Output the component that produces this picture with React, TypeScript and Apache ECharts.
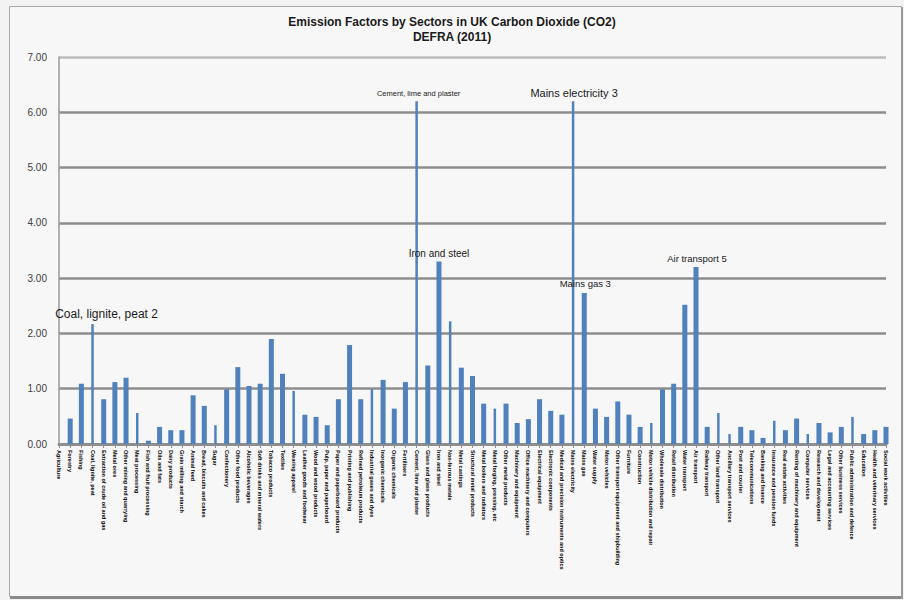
import React, { useEffect, useRef } from "react";
import * as echarts from "echarts";

const categories = [
  "Agriculture", "Forestry", "Fishing", "Coal, lignite, peat",
  "Extraction of crude oil and gas", "Metal ores", "Other mining and quarrying",
  "Meat processing", "Fish and fruit processing", "Oils and fats",
  "Dairy products", "Grain milling and starch", "Animal feed",
  "Bread, biscuits and cakes", "Sugar", "Confectionery", "Other food products",
  "Alcoholic beverages", "Soft drinks and mineral waters", "Tobacco products",
  "Textiles", "Wearing apparel", "Leather goods and footwear",
  "Wood and wood products", "Pulp, paper and paperboard",
  "Paper and paperboard products", "Printing and publishing",
  "Refined petroleum products", "Industrial gases and dyes",
  "Inorganic chemicals", "Organic chemicals", "Fertilisers",
  "Cement, lime and plaster", "Glass and glass products", "Iron and steel",
  "Non-ferrous metals", "Metal castings", "Structural metal products",
  "Metal boilers and radiators", "Metal forging, pressing, etc",
  "Other metal products", "Machinery and equipment",
  "Office machinery and computers", "Electrical equipment",
  "Electronic components", "Medical and precision instruments and optics",
  "Mains electricity", "Mains gas", "Water supply", "Motor vehicles",
  "Other transport equipment and shipbuilding", "Furniture",
  "Construction", "Motor vehicle distribution and repair",
  "Wholesale distribution", "Retail distribution", "Water transport",
  "Air transport", "Railway transport", "Other land transport",
  "Ancillary transport services", "Post and courier",
  "Telecommunications", "Banking and finance",
  "Insurance and pension funds", "Real estate activities",
  "Renting of machinery and equipment", "Computer services",
  "Research and development", "Legal and accounting services",
  "Other business services", "Public administration and defence",
  "Education", "Health and veterinary services", "Social work activities",
];

const values = [
  0, 0.46, 1.09, 2.17, 0.81, 1.12, 1.2, 0.56, 0.06, 0.31,
  0.25, 0.25, 0.88, 0.69, 0.34, 0.99, 1.39, 1.05, 1.09, 1.9,
  1.27, 0.96, 0.53, 0.49, 0.34, 0.81, 1.79, 0.81, 0.99, 1.16,
  0.64, 1.12, 6.2, 1.42, 3.3, 2.22, 1.38, 1.23, 0.73, 0.64,
  0.73, 0.38, 0.45, 0.81, 0.6, 0.53, 6.2, 2.73, 0.64, 0.49,
  0.77, 0.53, 0.31, 0.38, 0.99, 1.09, 2.52, 3.2, 0.31, 0.56,
  0.18, 0.31, 0.25, 0.11, 0.42, 0.25, 0.46, 0.18, 0.38, 0.21,
  0.31, 0.49, 0.18, 0.25, 0.31,
];

const yMin = 0;
const yMax = 7;
const yStep = 1;

const annotations = [
  { index: 3, text: "Coal, lignite, peat 2" },
  { index: 32, text: "Cement, lime and plaster" },
  { index: 34, text: "Iron and steel" },
  { index: 46, text: "Mains electricity 3" },
  { index: 47, text: "Mains gas 3" },
  { index: 57, text: "Air transport 5" },
];

// styling only: which bars render narrow, and annotation label styles
const thinBars = [3, 7, 14, 21, 28, 32, 35, 39, 46, 53, 59, 60, 64, 67, 71];
const labelStyles: Record<number, { fontSize: number; distance: number; offset: number[] }> = {
  3: { fontSize: 12, distance: 4, offset: [14, 0] },
  32: { fontSize: 7.5, distance: 4, offset: [2, 0] },
  34: { fontSize: 10, distance: 3, offset: [0, 0] },
  46: { fontSize: 11, distance: 3, offset: [1, 0] },
  47: { fontSize: 9.5, distance: 5, offset: [1, 0] },
  57: { fontSize: 9.5, distance: 4, offset: [1, 0] },
};

const FONT = "'Liberation Sans', Arial, sans-serif";
const BLUE = "#4f81bd";
const GRID_DARK = "#8e8e8e";
const GRID_LIGHT = "#bcbcbc";

function buildData(thin: boolean) {
  return values.map((v, i) => {
    const isThin = thinBars.includes(i);
    if (isThin !== thin) return "-";
    const ann = annotations.find((a) => a.index === i);
    if (!ann) return v;
    const st = labelStyles[i];
    return {
      value: v,
      label: {
        show: true,
        position: "top",
        formatter: ann.text,
        fontSize: st.fontSize,
        distance: st.distance,
        offset: st.offset,
        color: "#1a1a1a",
        fontFamily: FONT,
      },
    };
  });
}

export default function App() {
  const ref = useRef<HTMLDivElement>(null);
  useEffect(() => {
    if (!ref.current) return;
    const chart = echarts.init(ref.current, null, { renderer: "svg" });
    const xBase = {
      type: "category",
      data: categories,
      boundaryGap: false,
      position: "bottom",
    };
    // one colour per split line (0 .. max); the top one is lighter
    const splitColors: string[] = [];
    for (let v = yMin; v <= yMax; v += yStep) splitColors.push(v === yMax ? GRID_LIGHT : GRID_DARK);

    chart.setOption({
      animation: false,
      backgroundColor: "#f3f3f3",
      title: {
        text: "Emission Factors by Sectors in UK Carbon Dioxide (CO2)\nDEFRA (2011)",
        left: "center",
        top: 12,
        padding: 2,
        textStyle: {
          fontSize: 12,
          fontWeight: "bold",
          color: "#1a1a1a",
          lineHeight: 15,
          fontFamily: FONT,
        },
      },
      graphic: {
        elements: [
          {
            type: "rect",
            z: -100,
            shape: { x: 9.5, y: 6.5, width: 892, height: 590 },
            style: { fill: "#f7f7f7", stroke: "#a8a8a8", lineWidth: 1 },
            silent: true,
          },
          {
            type: "line",
            z: -99,
            shape: { x1: 10, y1: 597.5, x2: 903, y2: 597.5 },
            style: { stroke: "#8a8a8a", lineWidth: 3 },
            silent: true,
          },
          {
            type: "line",
            z: -99,
            shape: { x1: 902, y1: 7, x2: 902, y2: 599 },
            style: { stroke: "#9a9a9a", lineWidth: 2 },
            silent: true,
          },
        ],
      },
      grid: { left: 59, right: 18, top: 57, bottom: 156, containLabel: false },
      xAxis: [
        {
          ...xBase,
          axisLine: { show: true, lineStyle: { color: GRID_DARK, width: 3 } },
          axisTick: { show: true, length: 4, lineStyle: { color: GRID_DARK } },
          axisLabel: {
            rotate: -90,
            interval: 0,
            fontSize: 5.5,
            fontWeight: "bold",
            margin: 6,
            color: "#000",
            fontFamily: FONT,
          },
          splitLine: { show: false },
        },
        { ...xBase, show: false },
      ],
      yAxis: {
        type: "value",
        min: yMin,
        max: yMax,
        interval: yStep,
        axisLine: { show: true, lineStyle: { color: "#9a9a9a", width: 1.5 } },
        axisTick: { show: false },
        axisLabel: {
          formatter: (v: number) => v.toFixed(2),
          fontSize: 10,
          margin: 12,
          color: "#404040",
          fontFamily: FONT,
        },
        splitLine: {
          show: true,
          showMinLine: true,
          showMaxLine: true,
          lineStyle: { color: splitColors, width: 2.5 },
        },
      },
      series: [
        {
          type: "bar",
          xAxisIndex: 0,
          data: buildData(false),
          barWidth: 5,
          itemStyle: { color: BLUE },
        },
        {
          type: "bar",
          xAxisIndex: 1,
          data: buildData(true),
          barWidth: 2.5,
          itemStyle: { color: BLUE },
        },
      ],
    });
    return () => chart.dispose();
  }, []);
  return (
    <div
      ref={ref}
      style={{ position: "absolute", left: 0, top: 0, width: 904, height: 600 }}
    />
  );
}
